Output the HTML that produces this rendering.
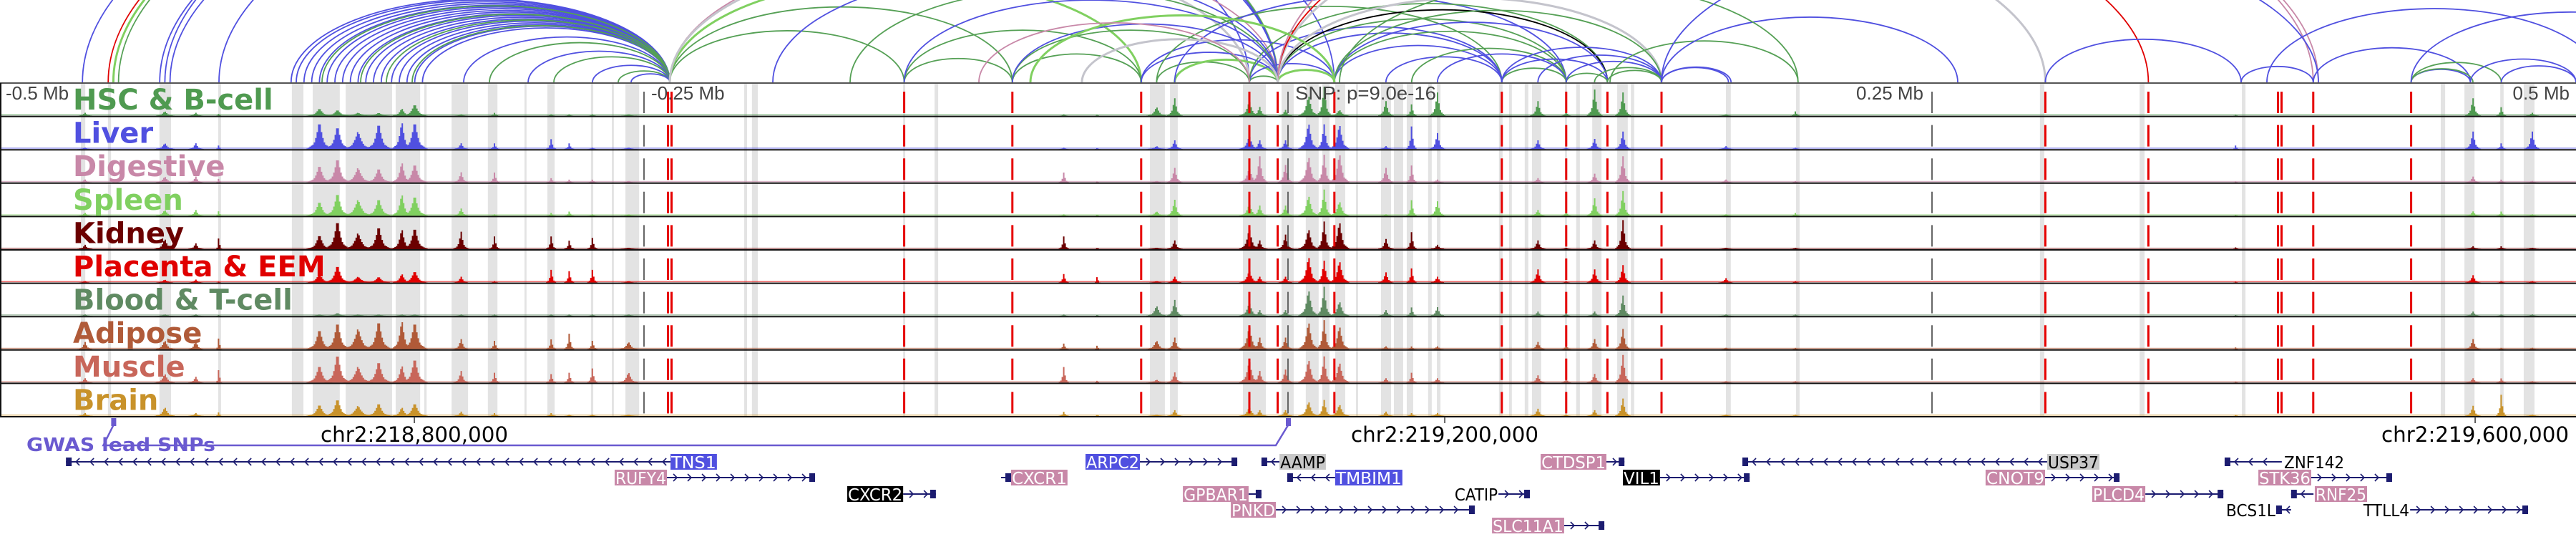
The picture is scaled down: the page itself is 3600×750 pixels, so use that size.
<!DOCTYPE html>
<html><head><meta charset="utf-8"><style>
html,body{margin:0;padding:0;background:#fff;}
svg{display:block;}
</style></head><body>
<svg id="chart" xmlns="http://www.w3.org/2000/svg" width="3600" height="750" viewBox="0 0 3600 750">
<rect x="0" y="0" width="3600" height="750" fill="#fff"/>
<g id="arcs"></g>
<g id="shades"></g>
<g id="signals"></g>
<g id="vlines"></g>
<g id="frames"></g>
<g id="labels"></g>
<g id="axis"></g>
<g id="gwas"></g>
<g id="genes"></g>
</svg>
<script>
// ---- data (positions in kb from window start; window = 1000 kb) ----
const trackNames = ["HSC & B-cell","Liver","Digestive","Spleen","Kidney","Placenta & EEM","Blood & T-cell","Adipose","Muscle","Brain"];
const trackColors = ["#4f9a50","#5050e0","#c888a8","#80d060","#6b0000","#e00000","#5f8a62","#b05a38","#c8665a","#c8922a"];
const peakPos = [33,64,85,76,124,131,139,147,156,161,179,192,214,221,230,244,413,426,449,456,485,489,499,508,514,520,538,548,558,597,608,619,630,960,971,983,697,670,868];
const peakWidth = [3,4,1,3,5,5,6,5,4,5,3,2,2,2,2,4,2,1,4,3,4,3,3,4,3,4,3,2,3,3,2,3,3,3,2,3,2,3,1];
const hscHeights = [.1,.15,.1,.1,.25,.2,.1,.1,.25,.4,.05,.1,.05,.05,.05,.05,.05,.05,.3,.6,.5,.3,.2,.7,1,.2,.5,.4,.8,.5,.15,.9,.8,.6,.3,.1,.15,.05,.05];
const liverHeights = [.05,.2,.2,.2,.95,.8,.6,.9,.95,.95,.2,.2,.35,.2,.05,.05,.05,.05,.1,.3,.45,.3,.3,.9,.85,.85,.1,.8,.55,.3,.05,.35,.6,.6,.2,.6,.05,.1,.2];
const digestiveHeights = [.1,.2,.2,.2,.6,.85,.5,.5,.7,.65,.35,.35,.15,.1,.1,.05,.35,.05,.05,.5,.5,.9,.6,.9,.95,1,.5,.6,.1,.15,.05,.3,.9,.2,.1,.05,.05,.1,.05];
const spleenHeights = [.1,.2,.25,.2,.5,.8,.55,.6,.75,.7,.25,.05,.1,.15,.05,.05,.05,.05,.15,.55,.4,.35,.35,.7,.9,.5,.05,.55,.5,.2,.15,.6,.85,.15,.15,.05,.1,.05,.05];
const kidneyHeights = [.15,.35,.6,.2,.5,1,.55,.8,.7,.75,.6,.45,.45,.3,.4,.05,.45,.05,.05,.3,.7,.3,.5,.7,.95,.95,.35,.6,.15,.3,.05,.3,1,.1,.1,.05,.05,.05,.1];
const placentaHeights = [.05,.1,.05,.1,.3,.6,.2,.2,.3,.4,.2,.05,.45,.4,.45,.05,.3,.3,.05,.2,.4,.2,.2,.9,.75,.75,.35,.5,.2,.45,.05,.45,.6,.25,.05,.05,.05,.15,.05];
const bloodHeights = [.05,.05,.05,.05,.05,.1,.05,.05,.05,.05,.05,.05,.05,.05,.05,.05,.05,.05,.35,.55,.45,.2,.2,.9,1,.5,.2,.3,.3,.15,.1,.15,.7,.15,.05,.05,.05,.05,.05];
const adiposeHeights = [.25,.3,.6,.3,.7,.95,.7,1,1,.95,.35,.3,.35,.55,.3,.25,.2,.2,.3,.4,.8,.4,.4,.95,1,.8,.1,.1,.1,.25,.15,.35,.7,.35,.05,.05,.05,.05,.1];
const muscleHeights = [.15,.3,.7,.2,.6,1,.55,.75,.6,.85,.4,.35,.3,.35,.5,.35,.55,.1,.1,.35,.75,.4,.45,.8,.9,.7,.15,.35,.15,.25,.15,.3,.95,.15,.15,.05,.05,.05,.05];
const brainHeights = [.1,.3,.2,.1,.4,.6,.35,.45,.3,.45,.15,.1,.1,.05,.05,.05,.15,.05,.05,.2,.3,.2,.2,.5,.55,.4,.15,.1,.1,.25,.05,.2,.6,.35,.75,.05,.05,.05,.05];
const trackHeights = [hscHeights,liverHeights,digestiveHeights,spleenHeights,kidneyHeights,placentaHeights,bloodHeights,adiposeHeights,muscleHeights,brainHeights];
const shadeStart = [31.4,41.9,61.9,84.7,113.3,121.4,134.2,153.6,164.7,175.3,189.4,203.6,212.5,229.4,237.5,242.8,288.9,291.9,350.6,362.8,446.4,454.2,482.5,497.5,506.9,513.3,518.3,526.4,536.1,541.1,546.1,554.4,557.8,581.9,585.8,591.9,594.7,607.5,611.9,618.1,627.8,633.1,670,697.2,791.9,830.6,870.3,947.5,956.7,970.6,979.7];
const shadeEnd = [33.1,43.1,66.4,85.8,117.8,131.9,152.2,163.1,165.6,181.7,193.1,204.4,215.3,230.3,238.3,248.1,290,294.2,351.4,364.2,452.2,457.2,491.4,502.2,511.9,516.1,522.2,527.2,540,544.7,548.6,555.8,559.2,583.3,586.9,593.3,598.3,608.3,613.3,621.7,631.9,634.4,671.9,698.6,793.6,832.5,871.7,949.2,960.6,971.9,983.9];
const redLines = [260,351,393,443,485,496,518,583,608,624,645,794,834,885,898,936];
const doubleRed = [260,885];
const grayLines = [250,500,750];
const arcStart = [32,42,44,46,62,64,66,85,113,115,118,121,124,127,130,133,136,139,142,145,148,152,155,158,161,164,125,140,150,160,180,190,205,215,230,240,245,260,260,260,260,260,351,351,393,393,393,443,449,456,443,449,456,485,485,485,485,496,496,496,496,496,496,496,496,496,518,518,518,518,538,548,558,583,583,583,608,608,624,597,619,300,330,351,420,400,380,645,645,625,645,794,870,898,936,936,936,959,971,936,880,520,645];
const arcEnd = [496,496,496,496,496,518,485,496,260,260,260,260,260,260,260,260,260,260,260,260,260,260,260,260,260,260,260,260,260,260,260,260,260,260,260,260,260,351,393,443,496,485,393,443,443,485,496,496,485,496,518,583,608,496,518,583,624,518,583,608,624,645,794,834,898,900,583,608,624,645,583,608,608,608,624,645,624,645,645,645,645,496,496,496,496,518,485,671,672,698,760,870,898,959,959,971,960,1000,1000,1060,1010,698,900];
const arcColor = ["B","R","L","G","B","B","B","B","B","B","B","B","B","B","B","B","B","B","B","B","B","B","B","B","B","B","G","G","G","G","B","G","B","G","B","G","B","G","G","L","P","Y","G","G","G","G","B","B","G","L","B","G","B","G","B","B","G","L","B","G","K","Y","Y","R","P","P","B","G","B","G","B","G","B","G","B","B","G","B","G","B","G","B","G","B","Y","L","P","B","B","G","B","B","B","B","B","G","G","B","B","B","B","G","B"];
const arcPalette = {B:"#5050e0",G:"#55a055",L:"#80d060",Y:"#c4c4cc",P:"#c888a8",R:"#e00000",K:"#000000"};
const axisTickPos = [160.85,560.85,960.85];
const axisTickLabels = ["chr2:218,800,000","chr2:219,200,000","chr2:219,600,000"];
const offsetLabelPos = [0,250,750,1000];
const offsetLabels = ["-0.5 Mb","-0.25 Mb","0.25 Mb","0.5 Mb"];
const gwasSnps = [44,500];
const geneNames = ["TNS1","ARPC2","AAMP","CTDSP1","USP37","ZNF142","RUFY4","CXCR1","TMBIM1","VIL1","CNOT9","STK36","CXCR2","GPBAR1","CATIP","PLCD4","RNF25","PNKD","BCS1L","TTLL4","SLC11A1"];
const geneRow = [0,0,0,0,0,0,1,1,1,1,1,1,2,2,2,2,2,3,3,3,4];
const geneLabelStart = [260.3,421.4,496.7,598.1,794.7,886.4,238.6,392.5,518.3,630,770.8,876.7,328.9,459.2,564.4,812.2,898.6,477.8,863.9,917.2,579.2];
const geneLabelEnd = [278.3,442.5,514.7,623.6,815,910.3,258.9,414.4,544.4,644.4,793.9,897.2,350.6,484.7,581.7,832.8,918.9,495.3,883.6,935.6,607.2];
const geneStart = [25.6,442.5,489.7,623.6,676.4,863.6,258.9,388.6,499.7,644.4,793.9,897.2,350.6,484.7,581.7,832.8,889.4,495.3,883.6,935.6,607.2];
const geneEnd = [260.3,480.3,496.7,630.6,794.7,885.8,316.4,392.5,518.3,679.2,822.8,928.6,363.3,489.7,593.9,863.1,898.1,572.5,889.4,981.4,622.8];
const geneStrand = ["-","+","-","+","-","-","+","+","-","+","+","+","+","+","+","+","-","+","-","+","+"];
const geneBg = ["#5050e0","#5050e0","#c8c8c8","#c888a8","#c8c8c8","none","#c888a8","#c888a8","#5050e0","#000000","#c888a8","#c888a8","#000000","#c888a8","none","#c888a8","#c888a8","#c888a8","none","none","#c888a8"];
const geneFg = ["#fff","#fff","#000","#fff","#000","#000","#fff","#fff","#fff","#fff","#fff","#fff","#fff","#fff","#000","#fff","#fff","#fff","#000","#000","#fff"];

// ---- scales ----
const PX_PER_KB = 3.6;
const xs = kb => kb * PX_PER_KB;
const TRACK_TOP = 116, ROW_H = 46.6, NT = trackNames.length, MAXH = 43;
const rowTop = i => TRACK_TOP + i * ROW_H;
const ys = (i, v) => rowTop(i) + ROW_H - 1 - v * MAXH;
const ROW_Y = [645,667,690,712,734];
const NS = "http://www.w3.org/2000/svg";
function mk(tag, attrs, parent){const e=document.createElementNS(NS,tag);for(const k in attrs)e.setAttribute(k,attrs[k]);parent.appendChild(e);return e;}

// ---- arcs ----
const arcsG = document.getElementById('arcs');
const cp = mk('clipPath',{id:'arcclip'},arcsG);
mk('rect',{x:0,y:0,width:3600,height:116},cp);
const arcInner = mk('g',{'clip-path':'url(#arcclip)'},arcsG);
for(let i=0;i<arcStart.length;i++){
  const s=xs(arcStart[i]), e=xs(arcEnd[i]); const rx=(e-s)/2, ry=(e-s)*0.22;
  const p=mk('path',{d:`M${s},115 A${rx},${ry} 0 0 1 ${e},115`,fill:'none',stroke:arcPalette[arcColor[i]],'stroke-width':(arcColor[i]==='Y'||arcColor[i]==='L')?3:1.8},arcInner);
  
  
}

// ---- shades ----
const shG=document.getElementById('shades');
for(let i=0;i<shadeStart.length;i++){
  const r=mk('rect',{x:xs(shadeStart[i]),y:TRACK_TOP,width:Math.max(2,xs(shadeEnd[i])-xs(shadeStart[i])),height:NT*ROW_H,fill:'#e3e3e3'},shG);
  
  
}

// ---- signals ----
const sigG=document.getElementById('signals');
for(let t=0;t<NT;t++){
  const g=mk('g',{fill:trackColors[t]},sigG);
  
  
  const base=mk('rect',{x:0,y:rowTop(t)+ROW_H-3,width:3600,height:1.5,opacity:0.6},g);
  
  
  for(let p=0;p<peakPos.length;p++){
    const v=trackHeights[t][p]; const c=xs(peakPos[p]); const half=xs(peakWidth[p]);
    let d=''; const bw=2;
    for(let x=c-half;x<c+half;x+=bw){
      const dd=Math.abs(x+bw/2-c)/half; const k=Math.max(0,1-dd);
      const env=Math.max(Math.pow(k,3),0.3*k);
      const y0=ys(t,v*env); const yb=rowTop(t)+ROW_H-1;
      d+=`M${x},${yb}V${y0}H${x+bw}V${yb}Z`;
    }
    const path=mk('path',{d:d},g);
    
    
  }
}

// ---- vertical lines ----
const vG=document.getElementById('vlines');
for(const kb of grayLines){
  const l=mk('line',{x1:xs(kb),x2:xs(kb),y1:TRACK_TOP,y2:TRACK_TOP+NT*ROW_H,stroke:'#666','stroke-width':2,'stroke-dasharray':'30,16.6','stroke-dashoffset':-12},vG);
  
  
}
for(const kb of redLines){
  const offs = doubleRed.includes(kb)?[-2.5,2.5]:[0];
  for(const o of offs){
    const l=mk('line',{x1:xs(kb)+o,x2:xs(kb)+o,y1:TRACK_TOP,y2:TRACK_TOP+NT*ROW_H,stroke:'#e60000','stroke-width':3,'stroke-dasharray':'30,16.6','stroke-dashoffset':-12},vG);
    
    
  }
}

// ---- frames ----
const fG=document.getElementById('frames');
for(let i=0;i<=NT;i++){
  const l=mk('line',{x1:0,x2:3600,y1:rowTop(i),y2:rowTop(i),stroke:i===0?'#555':'#111','stroke-width':2},fG);
  
  
}
const lb=mk('line',{x1:1,x2:1,y1:TRACK_TOP,y2:TRACK_TOP+NT*ROW_H,stroke:'#111','stroke-width':2},fG);



// ---- axis text ----
const aG=document.getElementById('axis');
for(let i=0;i<offsetLabels.length;i++){
  const x=xs(offsetLabelPos[i]); const anchor=i===0?'start':(i===3?'end':(i===1?'start':'end'));
  const tx=i===0?8:(i===1?x+10:(i===2?x-12:x-9));
  const t=mk('text',{x:tx,y:139,'font-family':'Liberation Sans, sans-serif','font-size':26,fill:'#444','text-anchor':anchor},aG);
  t.textContent=offsetLabels[i];
  
  
}
const snpT=mk('text',{x:1810,y:139,'font-family':'Liberation Sans, sans-serif','font-size':26,fill:'#444',textLength:197,lengthAdjust:'spacingAndGlyphs'},aG);
snpT.textContent='SNP: p=9.0e-16';


for(let i=0;i<axisTickPos.length;i++){
  const x=xs(axisTickPos[i]);
  const tk=mk('line',{x1:x,x2:x,y1:582,y2:591,stroke:'#333','stroke-width':1.5},aG);
  
  
  const t=mk('text',{x:x,y:617,'font-family':'DejaVu Sans, sans-serif','font-size':29,fill:'#000','text-anchor':'middle',textLength:262,lengthAdjust:'spacingAndGlyphs'},aG);
  t.textContent=axisTickLabels[i];
  
  
}

// ---- track labels ----
const lG=document.getElementById('labels');
for(let i=0;i<NT;i++){
  const t=mk('text',{x:102,y:rowTop(i)+37,'font-family':'DejaVu Sans, sans-serif','font-weight':'bold','font-size':40,fill:trackColors[i]},lG);
  t.textContent=trackNames[i];
  
  
}

// ---- GWAS ----
const gG=document.getElementById('gwas');
const gx0=xs(gwasSnps[0]), gx1=xs(gwasSnps[1]);
const gl=mk('path',{d:`M${gx0},594 L${gx0-14},622 L${gx1-17},622 L${gx1},594`,fill:'none',stroke:'#6a5ad0','stroke-width':2.5},gG);


for(const s of gwasSnps){
  const m=mk('rect',{x:xs(s)-3,y:584,width:7,height:11,fill:'#6a5ad0'},gG);
  
  
}
const gt=mk('text',{x:37,y:630,'font-family':'DejaVu Sans, sans-serif','font-weight':'bold','font-size':26,fill:'#6a5ad0',textLength:264,lengthAdjust:'spacingAndGlyphs'},gG);
gt.textContent='GWAS lead SNPs';



// ---- genes ----
const geG=document.getElementById('genes');
for(let i=0;i<geneNames.length;i++){
  const y=ROW_Y[geneRow[i]];
  const g=mk('g',{},geG);
  
  
  const x0=xs(geneStart[i]), x1=xs(geneEnd[i]);
  mk('line',{x1:x0,x2:x1,y1:y,y2:y,stroke:'#1c1c70','stroke-width':2},g);
  let d='';
  for(let x=x0+14;x<x1-6;x+=20){
    if(geneStrand[i]==='+') d+=`M${x-5},${y-5}L${x},${y}L${x-5},${y+5}`;
    else d+=`M${x+5},${y-5}L${x},${y}L${x+5},${y+5}`;
  }
  mk('path',{d:d,fill:'none',stroke:'#1c1c70','stroke-width':1.6},g);
  const ex = geneStrand[i]==='+'?x1-8:x0;
  mk('rect',{x:ex,y:y-6,width:8,height:12,fill:'#1c1c70'},g);
  const lx0=xs(geneLabelStart[i]), lx1=xs(geneLabelEnd[i]);
  if(geneBg[i]!=='none') mk('rect',{x:lx0,y:y-11,width:lx1-lx0,height:22,fill:geneBg[i]},g);
  const t=mk('text',{x:lx0+1,y:y+9,'font-family':'DejaVu Sans, sans-serif','font-size':23,fill:geneFg[i],textLength:lx1-lx0-2,lengthAdjust:'spacingAndGlyphs'},g);
  t.textContent=geneNames[i];
}
</script>
</body></html>
